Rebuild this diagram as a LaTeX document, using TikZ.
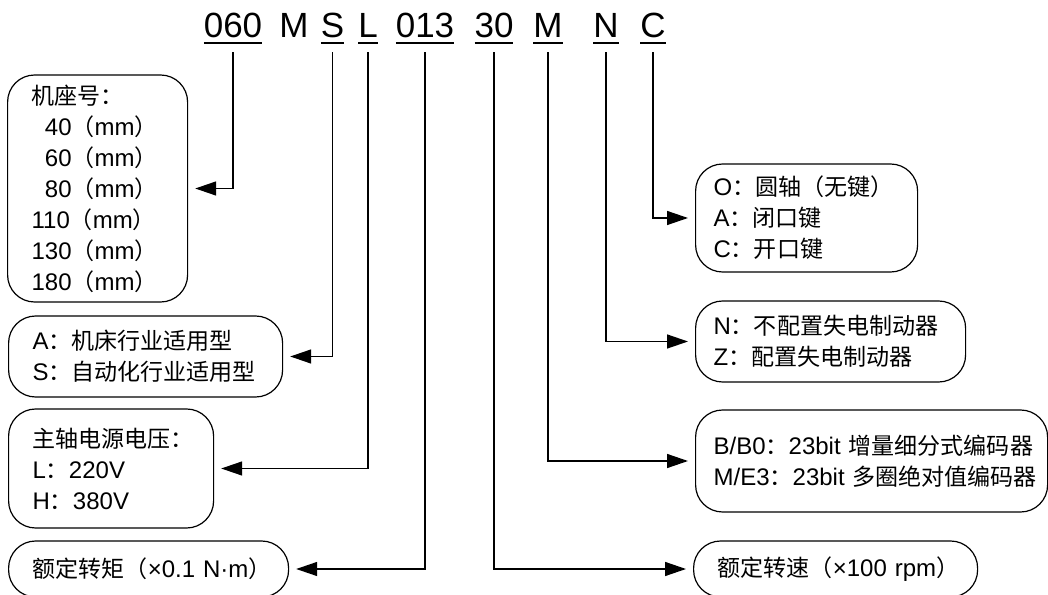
\documentclass[tikz,border=0pt]{standalone}
\usepackage{fontspec}
\setmainfont{Liberation Sans}
\newfontfamily\cjk{Noto Sans CJK SC}[Scale=0.96]
\usepackage{tikz}
\usetikzlibrary{arrows.meta}
\newcommand{\zh}[1]{{\cjk #1}}
\newcommand{\souligne}[1]{\setbox0\hbox{#1}\rlap{\rule[-2.85pt]{\wd0}{1pt}}\box0}
\tikzset{
  code/.style={font=\fontsize{17.5}{20}\selectfont, inner sep=0pt, anchor=base},
  boite/.style={draw, rounded corners=13.5pt, line width=0.6pt, align=left,
    anchor=west, inner ysep=0pt, font=\fontsize{12}{15.5}\selectfont},
  boitegauche/.style={boite, inner xsep=12pt},
  boitedroite/.style={boite, inner xsep=9pt},
  fleche/.style={-{Triangle[length=10.5pt, width=7pt]}, line width=0.7pt,
    shorten <=4pt, shorten >=3.5pt},
}
\begin{document}
\begin{tikzpicture}[x=0.5pt, y=0.5pt]
    \useasboundingbox (0,0) rectangle (1048,594);

    \node[code] (nsocle) at (233,556) {\souligne{060}};
    \node[code] (nm) at (294,556) {M};
    \node[code] (nusage) at (332.5,556) {\souligne{S}};
    \node[code] (ntension) at (368,556) {\souligne{L}};
    \node[code] (ncouple) at (425,556) {\souligne{013}};
    \node[code] (nvitesse) at (494,556) {\souligne{30}};
    \node[code] (ncodeur) at (548,556) {\souligne{M}};
    \node[code] (nfrein) at (606,556) {\souligne{N}};
    \node[code] (narbre) at (653,556) {\souligne{C}};

    \node[boitegauche, text width=66pt, minimum height=113.5pt] (socle) at (7,405.5)
      {\zh{机座号：}\\ \hphantom{0}40\zh{（}mm\zh{）}\\ \hphantom{0}60\zh{（}mm\zh{）}\\
       \hphantom{0}80\zh{（}mm\zh{）}\\ 110\zh{（}mm\zh{）}\\ 130\zh{（}mm\zh{）}\\ 180\zh{（}mm\zh{）}};
    \node[boitegauche, text width=113pt, minimum height=40.5pt] (usage) at (8,237.5)
      {A\zh{：机床行业适用型}\\ S\zh{：自动化行业适用型}};
    \node[boitegauche, text width=78.5pt, minimum height=59.5pt] (tension) at (8,125.5)
      {\zh{主轴电源电压：}\\ L\zh{：}220V\\ H\zh{：}380V};
    \node[boitegauche, text width=116pt, minimum height=28pt] (couple) at (8,25)
      {\zh{额定转矩（}×0.1~N·m\zh{）}};

    \node[boitedroite, text width=93pt, minimum height=54pt] (arbre) at (695,376)
      {O\zh{：圆轴（无键）}\\ A\zh{：闭口键}\\ C\zh{：开口键}};
    \node[boitedroite, text width=117pt, minimum height=40.5pt] (frein) at (695,252.5)
      {N\zh{：不配置失电制动器}\\ Z\zh{：配置失电制动器}};
    \node[boitedroite, text width=158pt, minimum height=51pt] (codeur) at (695,133)
      {B/B0\zh{：}23bit~\zh{增量细分式编码器}\\ M/E3\zh{：}23bit~\zh{多圈绝对值编码器}};
    \node[boitegauche, text width=118pt, minimum height=28pt] (vitesse) at (693,25)
      {\zh{额定转速（}×100~rpm\zh{）}};

    \draw[fleche] (nsocle.south) |- (socle.east);
    \draw[fleche] (nusage.south) |- (usage.east);
    \draw[fleche] (ntension.south) |- (tension.east);
    \draw[fleche] (ncouple.south) |- (couple.east);
    \draw[fleche] (nvitesse.south) |- (vitesse.west);
    \draw[fleche] (ncodeur.south) |- (codeur.west);
    \draw[fleche] (nfrein.south) |- (frein.west);
    \draw[fleche] (narbre.south) |- (arbre.west);
\end{tikzpicture}
\end{document}
